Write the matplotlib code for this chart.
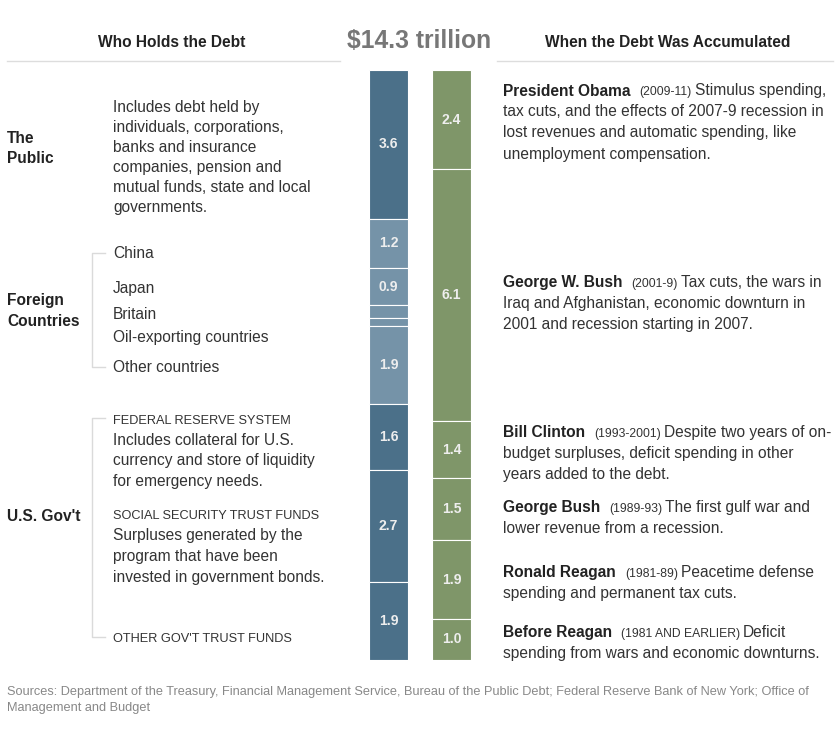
import matplotlib
matplotlib.use('Agg')
import matplotlib.pyplot as plt
from matplotlib.lines import Line2D

plt.rcParams['font.family'] = ['Liberation Sans', 'DejaVu Sans']

# Who holds the debt (trillions of dollars), top to bottom
holders = ['The Public', 'China', 'Japan', 'Britain', 'Oil-exporting countries',
           'Other countries', 'Federal Reserve System', 'Social Security trust funds',
           "Other gov't trust funds"]
holder_values = [3.6, 1.2, 0.9, 0.3, 0.2, 1.9, 1.6, 2.7, 1.9]
holder_groups = ['public', 'foreign', 'foreign', 'foreign', 'foreign', 'foreign',
                 'gov', 'gov', 'gov']
holder_labels = ['3.6', '1.2', '0.9', '', '', '1.9', '1.6', '2.7', '1.9']

# When the debt was accumulated (trillions of dollars), top to bottom
periods = ['President Obama', 'George W. Bush', 'Bill Clinton', 'George Bush',
           'Ronald Reagan', 'Before Reagan']
period_values = [2.4, 6.1, 1.4, 1.5, 1.9, 1.0]
period_labels = ['2.4', '6.1', '1.4', '1.5', '1.9', '1.0']

total_label = '$14.3 trillion'

group_colors = {'public': '#4b7089', 'foreign': '#7593a8', 'gov': '#4b7089'}
green = '#7f9669'

W, H = 840, 730
fig = plt.figure(figsize=(8.4, 7.3), dpi=100)
renderer = fig.canvas.get_renderer()


def fx(x):
    return x / W


def fy(y):
    return 1 - y / H


def txt(x, y, s, **kw):
    kw.setdefault('color', '#333333')
    kw.setdefault('fontsize', 11.2)
    return fig.text(fx(x), fy(y), s, va='baseline', **kw)


def hline(x0, x1, y, color='#dddddd'):
    fig.add_artist(Line2D([fx(x0), fx(x1)], [fy(y), fy(y)], color=color, lw=1))


def bracket(y0, y1):
    fig.add_artist(Line2D([fx(105), fx(92), fx(92), fx(105)],
                          [fy(y0), fy(y0), fy(y1), fy(y1)], color='#dadada', lw=1))


def run(x, y, parts):
    # pieces of text of mixed style on one line
    for s, kw, gap in parts:
        t = txt(x, y, s, **kw)
        x += t.get_window_extent(renderer).width + gap


# --- bars ---
ax = fig.add_axes([fx(360), fy(660), 120 / W, 590 / H])
w = 39 / 63
bottom = 0
for v, g, lab in zip(holder_values, holder_groups, holder_labels):
    ax.bar(0, v, width=w, bottom=bottom, color=group_colors[g], edgecolor='white', linewidth=0.8)
    if lab:
        ax.text(0, bottom + v / 2, lab, ha='center', va='center', color='#eeeeee',
                fontsize=10, fontweight='bold')
    bottom += v
bottom = 0
for v, lab in zip(period_values, period_labels):
    ax.bar(1, v, width=w, bottom=bottom, color=green, edgecolor='white', linewidth=0.8)
    ax.text(1, bottom + v / 2, lab, ha='center', va='center', color='#eeeeee',
            fontsize=10, fontweight='bold')
    bottom += v
ax.set_xlim(-28.5 / 63, 1 + 28.5 / 63)
ax.set_ylim(sum(period_values), 0)
ax.axis('off')

# --- headers ---
txt(172, 46.7, 'Who Holds the Debt', ha='center', fontweight='bold', color='#222222')
txt(419, 48.3, total_label, ha='center', fontweight='bold', color='#777777', fontsize=17.8)
txt(668, 46.7, 'When the Debt Was Accumulated', ha='center', fontweight='bold', color='#222222')
hline(7, 340, 61)
hline(497, 833, 61)

# --- left column ---
bold = dict(fontweight='bold', color='#222222')
txt(7, 142.7, 'The', **bold)
txt(7, 162.7, 'Public', **bold)
public_desc = ['Includes debt held by', 'individuals, corporations,', 'banks and insurance',
               'companies, pension and', 'mutual funds, state and local', 'governments.']
for i, line in enumerate(public_desc):
    txt(113, 111.7 + 20 * i, line)

txt(7, 304.5, 'Foreign', **bold)
txt(7, 325.5, 'Countries', **bold)
bracket(253, 367)
for name, yb in zip(holders[1:6], [258.3, 292.7, 318.7, 342, 371.7]):
    txt(113, yb, name)

txt(7, 521, "U.S. Gov't", **bold)
bracket(418, 637)
txt(113, 424, 'FEDERAL RESERVE SYSTEM', fontsize=9.2)
for i, line in enumerate(['Includes collateral for U.S.', 'currency and store of liquidity',
                          'for emergency needs.']):
    txt(113, 445 + 20.5 * i, line)
txt(113, 519, 'SOCIAL SECURITY TRUST FUNDS', fontsize=9.2)
for i, line in enumerate(['Surpluses generated by the', 'program that have been',
                          'invested in government bonds.']):
    txt(113, 540 + 20.8 * i, line)
txt(113, 641.7, "OTHER GOV'T TRUST FUNDS", fontsize=9.2)

# --- right column ---
notes = [
    ('(2009-11)', ['Stimulus spending,', 'tax cuts, and the effects of 2007-9 recession in',
                   'lost revenues and automatic spending, like', 'unemployment compensation.'], 95.5),
    ('(2001-9)', ['Tax cuts, the wars in', 'Iraq and Afghanistan, economic downturn in',
                  '2001 and recession starting in 2007.'], 287),
    ('(1993-2001)', ['Despite two years of on-', 'budget surpluses, deficit spending in other',
                     'years added to the debt.'], 436.7),
    ('(1989-93)', ['The first gulf war and', 'lower revenue from a recession.'], 511.7),
    ('(1981-89)', ['Peacetime defense', 'spending and permanent tax cuts.'], 577.3),
    ('(1981 AND EARLIER)', ['Deficit', 'spending from wars and economic downturns.'], 637.3),
]
for name, (years, lines, yb) in zip(periods, notes):
    run(503, yb, [(name, bold, 9), (years, dict(fontsize=8.7), 3), (lines[0], {}, 0)])
    for i, line in enumerate(lines[1:]):
        txt(503, yb + 21 * (i + 1), line)

# --- sources ---
src = dict(fontsize=9.2, color='#888888')
txt(7, 695, 'Sources: Department of the Treasury, Financial Management Service, Bureau of the '
    'Public Debt; Federal Reserve Bank of New York; Office of', **src)
txt(7, 711, 'Management and Budget', **src)

fig.savefig('out.png', dpi=100, facecolor='white')
